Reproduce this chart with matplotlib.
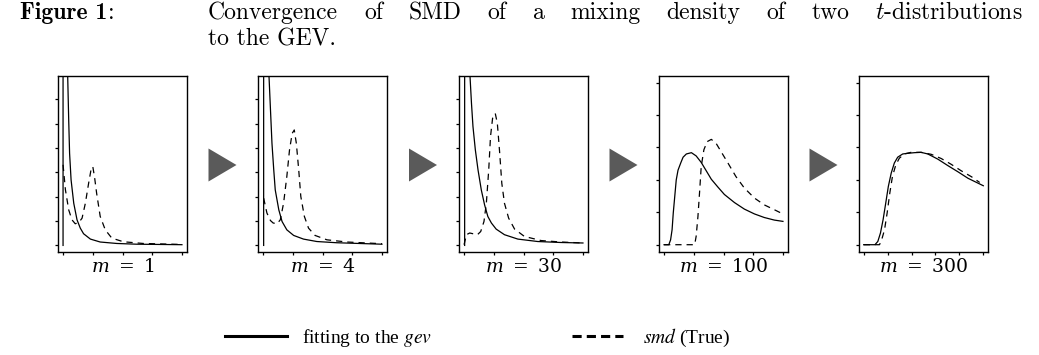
import matplotlib
matplotlib.use("Agg")
import matplotlib.pyplot as plt
from matplotlib.lines import Line2D
from matplotlib.patches import Polygon

plt.rcParams['mathtext.fontset'] = 'stix'

# panel labels
m_values = ["1", "4", "30", "100", "300"]

# m = 1
fit1_x = [0.0, 0.0, 0.10, 0.156, 0.19, 0.22, 0.27, 0.36, 0.47, 0.58, 0.69, 0.92, 1.25, 1.81, 2.48, 4.0]
fit1_y = [0.0, 9.0, 9.0, 6.95, 5.15, 3.78, 2.69, 1.73, 1.05, 0.71, 0.48, 0.26, 0.14, 0.08, 0.05, 0.03]
smd1_x = [0.0, 0.08, 0.19, 0.30, 0.41, 0.53, 0.64, 0.75, 0.86, 0.94, 1.0, 1.06, 1.13, 1.25, 1.42, 1.64, 2.03, 2.70, 4.0]
smd1_y = [3.31, 2.28, 1.46, 1.05, 0.89, 0.94, 1.12, 1.73, 2.55, 3.10, 3.24, 2.80, 2.14, 1.19, 0.64, 0.30, 0.15, 0.08, 0.04]

# m = 4
fit4_x = [0.02, 0.02, 0.12, 0.20, 0.25, 0.30, 0.36, 0.41, 0.53, 0.64, 0.80, 1.03, 1.36, 1.81, 2.48, 4.0]
fit4_y = [0.0, 9.0, 9.0, 6.95, 5.56, 4.19, 3.10, 2.28, 1.46, 0.98, 0.64, 0.41, 0.26, 0.16, 0.11, 0.05]
smd4_x = [0.02, 0.13, 0.25, 0.34, 0.47, 0.58, 0.69, 0.80, 0.89, 0.98, 1.05, 1.12, 1.20, 1.27, 1.39, 1.53, 1.75, 2.15, 2.82, 4.0]
smd4_y = [1.94, 1.33, 1.02, 0.92, 0.89, 1.05, 1.73, 2.83, 3.92, 4.60, 4.74, 4.19, 3.10, 2.01, 1.19, 0.71, 0.41, 0.23, 0.14, 0.07]

# m = 30
fit30_x = [0.02, 0.02, 0.12, 0.20, 0.25, 0.30, 0.38, 0.47, 0.58, 0.69, 0.80, 0.92, 1.08, 1.36, 1.81, 2.48, 3.26, 4.0]
fit30_y = [0.0, 9.0, 9.0, 6.95, 5.83, 4.88, 3.92, 3.10, 2.28, 1.67, 1.19, 0.92, 0.67, 0.44, 0.26, 0.16, 0.12, 0.10]
smd30_x = [0.0, 0.08, 0.19, 0.30, 0.45, 0.56, 0.67, 0.75, 0.83, 0.89, 0.96, 1.05, 1.12, 1.20, 1.27, 1.36, 1.50, 1.70, 2.03, 2.59, 3.26, 4.0]
smd30_y = [0.03, 0.44, 0.51, 0.48, 0.44, 0.57, 0.98, 1.73, 3.10, 4.47, 5.22, 5.42, 5.01, 3.78, 2.55, 1.73, 1.12, 0.67, 0.37, 0.20, 0.14, 0.10]

# m = 100
fit100_x = [0.0, 0.16, 0.22, 0.27, 0.31, 0.36, 0.41, 0.47, 0.56, 0.64, 0.75, 0.92, 1.08, 1.25,
            1.42, 1.59, 1.81, 2.03, 2.37, 2.70, 3.04, 3.37, 3.71, 4.0]
fit100_y = [0.0, 0.0, 0.15, 0.46, 0.98, 1.49, 2.00, 2.30, 2.52, 2.70, 2.80, 2.84, 2.74, 2.54,
            2.28, 2.02, 1.78, 1.55, 1.30, 1.10, 0.95, 0.84, 0.76, 0.72]
smd100_x = [0.0, 1.03, 1.08, 1.14, 1.20, 1.25, 1.34, 1.45, 1.59, 1.75, 1.92, 2.15, 2.42, 2.70, 3.04, 3.37, 3.71, 3.93]
smd100_y = [0.0, 0.0, 0.26, 0.87, 1.69, 2.41, 2.93, 3.18, 3.25, 3.13, 2.87, 2.52, 2.10, 1.75, 1.44, 1.23, 1.08, 0.98]

# m = 300
fit300_x = [0.0, 0.47, 0.59, 0.70, 0.81, 0.92, 1.03, 1.15, 1.28, 1.42, 1.63, 1.84, 2.12, 2.40, 2.68, 3.10, 3.52, 3.94, 4.36, 5.0]
fit300_y = [0.0, 0.0, 0.10, 0.36, 0.77, 1.28, 1.80, 2.21, 2.52, 2.70, 2.80, 2.82, 2.84, 2.85, 2.80, 2.64, 2.44, 2.25, 2.05, 1.82]
smd300_x = [0.0, 0.66, 0.75, 0.87, 0.98, 1.09, 1.20, 1.34, 1.49, 1.70, 1.98, 2.40, 2.82, 3.24, 3.66, 4.08, 4.50, 4.85]
smd300_y = [0.0, 0.0, 0.15, 0.46, 0.98, 1.59, 2.10, 2.46, 2.67, 2.80, 2.85, 2.85, 2.79, 2.66, 2.48, 2.28, 2.10, 1.92]

fits = [(fit1_x, fit1_y), (fit4_x, fit4_y), (fit30_x, fit30_y), (fit100_x, fit100_y), (fit300_x, fit300_y)]
smds = [(smd1_x, smd1_y), (smd4_x, smd4_y), (smd30_x, smd30_y), (smd100_x, smd100_y), (smd300_x, smd300_y)]
n_xticks = [5, 5, 5, 5, 6]
n_yticks = [7, 7, 7, 6, 6]

caption_line1 = ["Convergence", "of", "SMD", "of", "a", "mixing", "density", "of", "two", "$t$-distributions"]
caption_line2 = "to the GEV."

W, H = 1039, 355
fig = plt.figure(figsize=(W / 100, H / 100), dpi=100)


def fx(px):
    return px / W


def fy(py):
    return 1 - py / H


lefts = [58, 258, 459, 659, 859]
pw, top, bottom = 129, 76, 252
dash = (0, (5, 4))

for i in range(5):
    ax = fig.add_axes([fx(lefts[i]), fy(bottom), pw / W, (bottom - top) / H])
    ax.plot(*fits[i], color="black", lw=0.9)
    ax.plot(*smds[i], color="black", lw=0.9, linestyle=dash)
    nx, ny = n_xticks[i], n_yticks[i]
    pad = 0.17 if nx == 5 else 0.197
    ax.set_xlim(-pad, (nx - 1) + pad)
    if ny == 7:
        ax.set_ylim(-0.27, 6.955)
    else:
        ax.set_ylim(-0.225, 5.206)
    ax.set_xticks(range(nx))
    ax.set_yticks(range(ny))
    ax.tick_params(direction="out", length=2.3, width=0.9, labelbottom=False, labelleft=False)
    for s in ax.spines.values():
        s.set_linewidth(1.0)
    fig.text(fx(lefts[i] + pw / 2), fy(272), r"$m\ =\ %s$" % m_values[i],
             ha="center", va="baseline", fontsize=13.5, math_fontfamily="dejavuserif")

# grey arrows between panels
tw, th = 28, 33
cy = (top + bottom) / 2 + 1
for i in range(4):
    cx = (lefts[i] + pw + lefts[i + 1]) / 2
    tri = Polygon([[fx(cx - tw / 2), fy(cy - th / 2)], [fx(cx - tw / 2), fy(cy + th / 2)],
                   [fx(cx + tw / 2), fy(cy)]], closed=True, transform=fig.transFigure,
                  facecolor="#5a5a5a", edgecolor="none")
    fig.add_artist(tri)

# caption, first line justified between 208 px and 1023 px
renderer = fig.canvas.get_renderer()
cap_size = 17
lab = fig.text(fx(20), fy(19), "Figure 1", fontfamily="cmb10", fontsize=cap_size, va="baseline")
lab_w = lab.get_window_extent(renderer).width
fig.text(fx(20 + lab_w + 0.5), fy(19), ":", fontfamily="cmr10", fontsize=cap_size, va="baseline")

word_texts = [fig.text(0, fy(19), w, fontfamily="cmr10", fontsize=cap_size, va="baseline",
                       math_fontfamily="cm") for w in caption_line1]
widths = [t.get_window_extent(renderer).width for t in word_texts]
x_start, x_end = 208, 1023
gap = (x_end - x_start - sum(widths)) / (len(widths) - 1)
x = x_start
for t, w in zip(word_texts, widths):
    t.set_x(fx(x))
    x += w + gap
fig.text(fx(208), fy(45), caption_line2, fontfamily="cmr10", fontsize=cap_size, va="baseline")

# legend
prop = {"family": "Liberation Serif", "size": 14}
fs_px = 14 * 100 / 72
h1 = Line2D([], [], color="black", lw=2.2)
h2 = Line2D([], [], color="black", lw=2.2, linestyle=(0, (3, 1.67)))
leg1 = fig.legend([h1], [r"fitting to the $gev$"], loc="center left", bbox_to_anchor=(fx(225), fy(338)),
                  frameon=False, prop=prop, handlelength=62 / fs_px, handletextpad=15 / fs_px,
                  borderpad=0, borderaxespad=0)
leg2 = fig.legend([h2], [r"$smd$ (True)"], loc="center left", bbox_to_anchor=(fx(572), fy(338)),
                  frameon=False, prop=prop, handlelength=51 / fs_px, handletextpad=20 / fs_px,
                  borderpad=0, borderaxespad=0)

fig.savefig("out.png", dpi=100)
